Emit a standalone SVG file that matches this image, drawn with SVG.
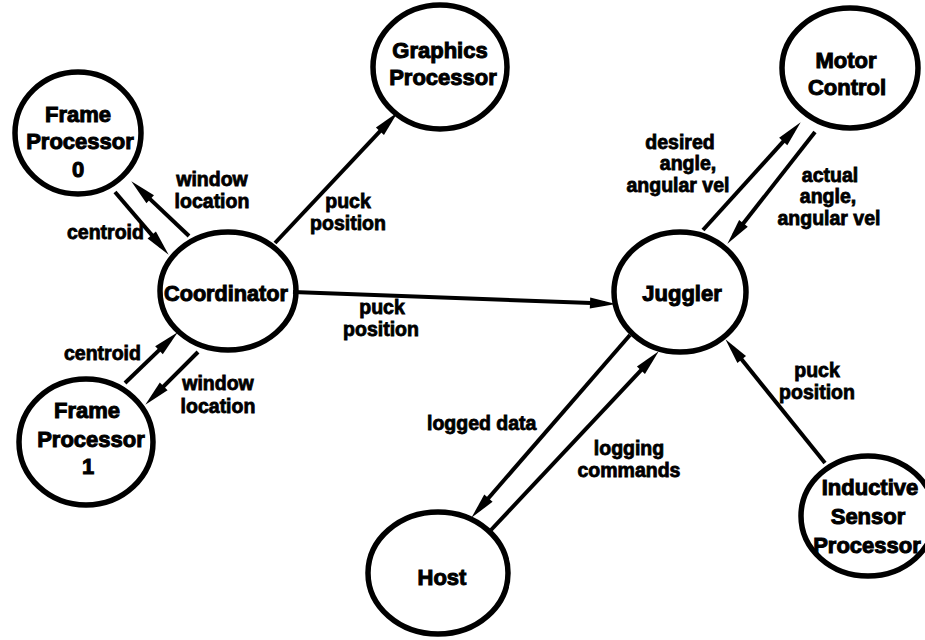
<svg xmlns="http://www.w3.org/2000/svg" width="925" height="640" viewBox="0 0 925 640">
<style>
.n{fill:#fff;stroke:#000;stroke-width:5.5}
.t{font-family:"Liberation Sans",Arial,sans-serif;font-weight:bold;font-size:22px;text-anchor:middle;fill:#000;stroke:#000;stroke-width:1}
.l{font-family:"Liberation Sans",Arial,sans-serif;font-weight:bold;font-size:19.5px;text-anchor:middle;fill:#000;stroke:#000;stroke-width:0.8}
.s{text-anchor:start}
.c{stroke:#000;stroke-width:4;fill:none;marker-end:url(#ah)}
</style>
<defs>
<marker id="ah" markerUnits="userSpaceOnUse" markerWidth="28" markerHeight="13" refX="15" refY="6.5" orient="auto" overflow="visible">
<path d="M0,1 L26,6.5 L0,12 Z" fill="#000"/>
</marker>
</defs>
<rect width="925" height="640" fill="#fff"/>
<g id="frame0"><ellipse class="n" cx="78" cy="133" rx="63" ry="61"/>
<text class="t" x="78" y="122">Frame</text><text class="t" x="80" y="149">Processor</text><text class="t" x="78" y="177">0</text></g>
<g id="frame1"><ellipse class="n" cx="86" cy="442" rx="67" ry="63"/>
<text class="t" x="87" y="418">Frame</text><text class="t" x="91" y="447">Processor</text><text class="t" x="88" y="474">1</text></g>
<g id="coordinator"><ellipse class="n" cx="228" cy="291" rx="68" ry="59"/>
<text class="t" x="226" y="301" textLength="124" lengthAdjust="spacingAndGlyphs">Coordinator</text></g>
<g id="graphics"><ellipse class="n" cx="440" cy="67" rx="67" ry="62"/>
<text class="t" x="440" y="58">Graphics</text><text class="t" x="443" y="85">Processor</text></g>
<g id="motor"><ellipse class="n" cx="850" cy="68" rx="68" ry="60"/>
<text class="t" x="846" y="68">Motor</text><text class="t" x="847" y="95">Control</text></g>
<g id="juggler"><ellipse class="n" cx="680" cy="292" rx="66" ry="60"/>
<text class="t" x="682" y="301">Juggler</text></g>
<g id="host"><ellipse class="n" cx="438" cy="573" rx="70" ry="61"/>
<text class="t" x="442" y="585">Host</text></g>
<g id="inductive"><ellipse class="n" cx="868" cy="516" rx="67" ry="60"/>
<text class="t" x="870" y="495">Inductive</text><text class="t" x="868" y="524">Sensor</text><text class="t" x="867" y="553">Processor</text></g>
<g id="connectors">
<line class="c" x1="115" y1="192" x2="161.5" y2="246.4"/>
<line class="c" x1="189" y1="236" x2="139.3" y2="188.9"/>
<line class="c" x1="125" y1="383" x2="169.8" y2="339.9"/>
<line class="c" x1="198" y1="352" x2="153.1" y2="396.9"/>
<line class="c" x1="275" y1="243" x2="390.2" y2="120.3"/>
<line class="c" x1="293" y1="292" x2="605" y2="303.6"/>
<line class="c" x1="703" y1="230" x2="793.3" y2="130.4"/>
<line class="c" x1="815" y1="132" x2="734.2" y2="235.1"/>
<line class="c" x1="630" y1="335" x2="478.6" y2="509.5"/>
<line class="c" x1="491" y1="530" x2="651.2" y2="359.3"/>
<line class="c" x1="825" y1="463" x2="732.3" y2="347.8"/>
</g>
<g id="labels">
<text class="l" x="212" y="186">window</text><text class="l" x="212" y="208">location</text>
<text class="l s" x="67" y="239">centroid</text>
<text class="l s" x="64" y="360">centroid</text>
<text class="l" x="218" y="390">window</text><text class="l" x="218" y="413">location</text>
<text class="l" x="348" y="208">puck</text><text class="l" x="348" y="230">position</text>
<text class="l" x="382" y="314">puck</text><text class="l" x="381" y="336">position</text>
<text class="l" x="680" y="149">desired</text><text class="l" x="688" y="170">angle,</text><text class="l" x="678" y="192">angular vel</text>
<text class="l" x="830" y="182">actual</text><text class="l" x="828" y="203">angle,</text><text class="l" x="829" y="225">angular vel</text>
<text class="l" x="817" y="377">puck</text><text class="l" x="817" y="399">position</text>
<text class="l s" x="427" y="430">logged data</text>
<text class="l" x="629" y="455">logging</text><text class="l" x="629" y="477">commands</text>
</g>
</svg>
